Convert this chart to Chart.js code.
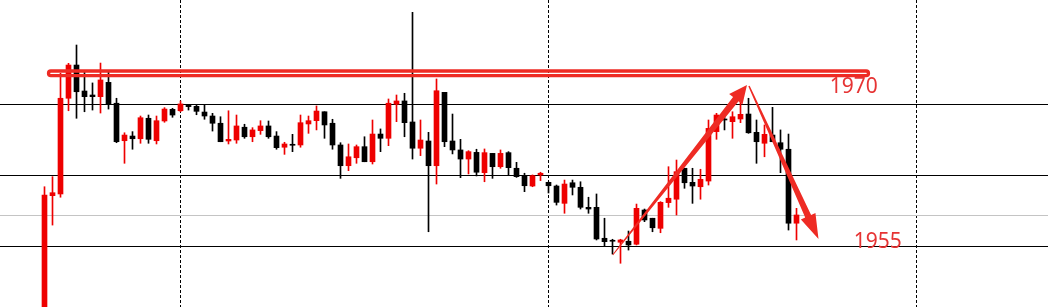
<!DOCTYPE html>
<html lang="en">
<head>
    <meta charset="UTF-8">
    <title>Price Candles</title>
    <script src="https://cdn.jsdelivr.net/npm/chart.js"></script>
    <style>
        body {
            margin: 0;
            padding: 0;
            background-color: #fff;
        }

        .chart-box {
            position: relative;
            width: 1048px;
            height: 307px;
        }
    </style>
</head>
<body>
    <div class="chart-box">
        <canvas id="priceChart"></canvas>
    </div>

    <script>
        // Candle values (one entry per bar, left to right)
        const opens = [
            1949.11, 1958.57, 1958.69, 1965.43, 1967.77, 1965.94, 1965.66, 1965.54, 1966.55, 1965.08,
            1962.44, 1962.77, 1962.58, 1964.02, 1962.44, 1963.83, 1964.65, 1964.55, 1964.93, 1964.86,
            1964.46, 1964.18, 1963.67, 1962.42, 1962.49, 1963.39, 1962.72, 1963.15, 1963.48, 1962.77,
            1961.98, 1962.19, 1962.14, 1963.62, 1963.85, 1964.48, 1963.67, 1962.14, 1960.68, 1961.24,
            1962.02, 1960.96, 1962.91, 1962.61, 1965.01, 1965.24, 1963.76, 1961.91, 1962.42, 1960.68,
            1965.85, 1962.42, 1961.79, 1961.15, 1961.62, 1960.19, 1961.55, 1960.61, 1961.60, 1960.50,
            1959.98, 1959.25, 1960.03, 1959.51, 1959.25, 1958.03, 1959.48, 1959.16, 1957.75, 1957.75,
            1955.57, 1955.40, 1955.29, 1955.36, 1955.15, 1957.56, 1956.98, 1956.27, 1958.08, 1958.32,
            1960.50, 1959.51, 1959.20, 1959.60, 1963.08, 1963.97, 1963.78, 1963.97, 1964.32, 1963.03,
            1962.26, 1962.84, 1962.30, 1961.84, 1956.63
        ];
        const highs = [
            1959.20, 1959.91, 1967.19, 1967.89, 1969.18, 1967.30, 1966.51, 1967.91, 1967.30, 1965.43,
            1963.00, 1963.08, 1964.18, 1964.25, 1964.18, 1964.77, 1964.72, 1965.24, 1964.98, 1964.93,
            1964.98, 1964.37, 1964.13, 1964.55, 1964.25, 1963.60, 1963.36, 1963.85, 1963.83, 1963.08,
            1962.33, 1962.89, 1964.25, 1964.18, 1964.89, 1964.48, 1963.95, 1962.30, 1962.21, 1962.14,
            1962.72, 1963.90, 1963.27, 1965.38, 1965.66, 1965.78, 1971.48, 1963.90, 1963.03, 1966.79,
            1965.85, 1964.32, 1962.54, 1961.74, 1961.84, 1961.86, 1961.55, 1961.79, 1961.67, 1960.92,
            1960.15, 1960.03, 1960.22, 1959.53, 1959.32, 1959.67, 1959.67, 1959.55, 1958.46, 1958.69,
            1956.98, 1955.50, 1955.50, 1956.08, 1957.98, 1957.63, 1956.98, 1958.15, 1960.61, 1961.08,
            1960.50, 1960.50, 1960.43, 1963.90, 1964.37, 1964.37, 1964.48, 1965.43, 1965.43, 1963.90,
            1963.55, 1964.79, 1963.20, 1962.91, 1957.68
        ];
        const lows = [
            1948.41, 1956.50, 1958.46, 1964.55, 1964.02, 1964.48, 1964.60, 1964.39, 1964.67, 1962.30,
            1960.85, 1961.84, 1962.26, 1962.26, 1962.21, 1963.74, 1964.09, 1964.48, 1964.60, 1964.27,
            1963.95, 1963.12, 1962.37, 1962.21, 1962.26, 1962.61, 1962.37, 1962.89, 1962.61, 1961.84,
            1961.48, 1961.67, 1961.98, 1962.96, 1963.20, 1962.61, 1961.84, 1959.79, 1960.33, 1960.85,
            1960.96, 1960.80, 1961.67, 1962.09, 1963.78, 1962.72, 1961.15, 1961.39, 1956.03, 1959.39,
            1962.02, 1961.51, 1959.84, 1960.10, 1959.96, 1959.55, 1959.79, 1960.50, 1960.03, 1959.86,
            1958.85, 1959.20, 1959.63, 1958.76, 1957.91, 1957.33, 1958.62, 1957.63, 1957.33, 1955.45,
            1955.03, 1954.46, 1953.81, 1954.74, 1955.10, 1956.74, 1956.03, 1955.96, 1957.75, 1957.21,
            1959.09, 1958.03, 1958.32, 1959.32, 1962.54, 1963.20, 1962.61, 1963.71, 1962.96, 1960.85,
            1961.31, 1962.37, 1960.19, 1956.15, 1955.45
        ];
        const closes = [
            1958.62, 1958.78, 1965.43, 1967.77, 1965.89, 1965.54, 1965.54, 1966.72, 1965.03, 1962.37,
            1962.84, 1962.58, 1964.06, 1962.54, 1963.85, 1964.67, 1964.25, 1965.03, 1964.84, 1964.51,
            1964.18, 1963.67, 1962.37, 1962.54, 1963.48, 1962.72, 1963.20, 1963.48, 1962.72, 1961.95,
            1962.21, 1962.12, 1963.71, 1963.85, 1964.53, 1963.55, 1962.14, 1960.68, 1961.31, 1962.02,
            1960.96, 1962.91, 1962.61, 1965.08, 1965.24, 1963.71, 1961.91, 1962.49, 1960.68, 1965.96,
            1962.37, 1961.79, 1961.15, 1961.67, 1960.22, 1961.60, 1960.61, 1961.55, 1960.54, 1959.91,
            1959.27, 1959.98, 1960.15, 1959.27, 1958.10, 1959.39, 1959.16, 1957.75, 1957.63, 1955.52,
            1955.33, 1955.36, 1955.45, 1955.10, 1957.68, 1956.86, 1956.31, 1958.10, 1958.39, 1960.26,
            1959.48, 1959.25, 1959.72, 1963.31, 1964.25, 1963.90, 1964.13, 1964.30, 1963.00, 1962.37,
            1962.89, 1962.37, 1961.84, 1956.63, 1957.21
        ];

        // Horizontal levels, bid line and vertical separators (bar index)
        const levelLines = [1955, 1960, 1965];
        const bidLine = 1957.19;
        const separators = [17, 63, 109];

        // Hand-drawn marks: resistance box, two arrows, two labels
        const boxBand = { from: 0.5, to: 103, top: 1967.35, bottom: 1967.02 };
        const upArrow = { x0: 71.03, y0: 1954.39, x1: 87.81, y1: 1966.36 };
        const downArrow = { x0: 88.06, y0: 1966.29, x1: 96.75, y1: 1955.52 };
        const labels = [
            { text: '1970', x: 98.15, y: 1965.78 },
            { text: '1955', x: 101.15, y: 1954.86 }
        ];

        const bullColor = '#ee0000';
        const bearColor = '#000000';
        const markColor = '#ee2b24';

        const candleColor = (i) => closes[i] >= opens[i] ? bullColor : bearColor;

        const drawArrow = (ctx, x0, y0, x1, y1, w0, w1, headLen, headW) => {
            const len = Math.hypot(x1 - x0, y1 - y0);
            const ux = (x1 - x0) / len, uy = (y1 - y0) / len;
            const nx = -uy, ny = ux;
            const bx = x1 - ux * headLen, by = y1 - uy * headLen;
            ctx.beginPath();
            ctx.moveTo(x0 + nx * w0 / 2, y0 + ny * w0 / 2);
            ctx.lineTo(bx + nx * w1 / 2, by + ny * w1 / 2);
            ctx.lineTo(bx + nx * headW / 2, by + ny * headW / 2);
            ctx.lineTo(x1, y1);
            ctx.lineTo(bx - nx * headW / 2, by - ny * headW / 2);
            ctx.lineTo(bx - nx * w1 / 2, by - ny * w1 / 2);
            ctx.lineTo(x0 - nx * w0 / 2, y0 - ny * w0 / 2);
            ctx.closePath();
            ctx.fill();
        };

        const marksPlugin = {
            id: 'marks',
            afterDatasetsDraw(chart) {
                const { ctx, scales: { x, y } } = chart;
                ctx.save();

                // resistance box
                const bx1 = x.getPixelForValue(boxBand.from);
                const bx2 = x.getPixelForValue(boxBand.to);
                const by1 = y.getPixelForValue(boxBand.top);
                const by2 = y.getPixelForValue(boxBand.bottom);
                ctx.strokeStyle = markColor;
                ctx.lineWidth = 3.3;
                ctx.beginPath();
                ctx.roundRect(bx1, by1, bx2 - bx1, by2 - by1, 3);
                ctx.stroke();

                // arrows
                ctx.fillStyle = markColor;
                drawArrow(ctx,
                    x.getPixelForValue(upArrow.x0), y.getPixelForValue(upArrow.y0),
                    x.getPixelForValue(upArrow.x1), y.getPixelForValue(upArrow.y1),
                    1, 7, 18, 17);
                drawArrow(ctx,
                    x.getPixelForValue(downArrow.x0), y.getPixelForValue(downArrow.y0),
                    x.getPixelForValue(downArrow.x1), y.getPixelForValue(downArrow.y1),
                    1.5, 6.5, 25, 16);

                // labels
                ctx.fillStyle = '#e63434';
                ctx.font = '21px "Noto Sans"';
                ctx.textBaseline = 'alphabetic';
                labels.forEach(l => {
                    ctx.fillText(l.text, x.getPixelForValue(l.x), y.getPixelForValue(l.y));
                });

                ctx.restore();
            }
        };

        const ctx = document.getElementById('priceChart').getContext('2d');
        const priceChart = new Chart(ctx, {
            type: 'bar',
            data: {
                datasets: [
                    {
                        label: 'wick',
                        data: opens.map((o, i) => ({ x: i, y: [lows[i], highs[i]] })),
                        backgroundColor: (c) => candleColor(c.dataIndex),
                        barThickness: 1,
                        grouped: false,
                        borderWidth: 0
                    },
                    {
                        label: 'body',
                        data: opens.map((o, i) => ({ x: i, y: [o, closes[i]] })),
                        backgroundColor: (c) => candleColor(c.dataIndex),
                        barThickness: 5,
                        minBarLength: 1,
                        grouped: false,
                        borderWidth: 0
                    }
                ]
            },
            options: {
                responsive: true,
                maintainAspectRatio: false,
                animation: false,
                layout: { padding: 0 },
                plugins: {
                    legend: { display: false },
                    tooltip: { enabled: false }
                },
                scales: {
                    x: {
                        type: 'linear',
                        min: -5.5625,
                        max: 125.4375,
                        offset: false,
                        afterBuildTicks: (scale) => {
                            scale.ticks = separators.map(v => ({ value: v }));
                        },
                        ticks: { display: false },
                        grid: { color: '#000', lineWidth: 1, drawTicks: false, offset: false },
                        border: { display: false, dash: [3, 2] }
                    },
                    y: {
                        type: 'linear',
                        min: 1950.73,
                        max: 1972.35,
                        afterBuildTicks: (scale) => {
                            scale.ticks = [...levelLines, bidLine].map(v => ({ value: v }));
                        },
                        ticks: { display: false },
                        grid: {
                            color: (c) => c.tick && c.tick.value === bidLine ? '#c4c4c4' : '#000',
                            lineWidth: 1,
                            drawTicks: false
                        },
                        border: { display: false }
                    }
                }
            },
            plugins: [marksPlugin]
        });
    </script>
</body>
</html>
